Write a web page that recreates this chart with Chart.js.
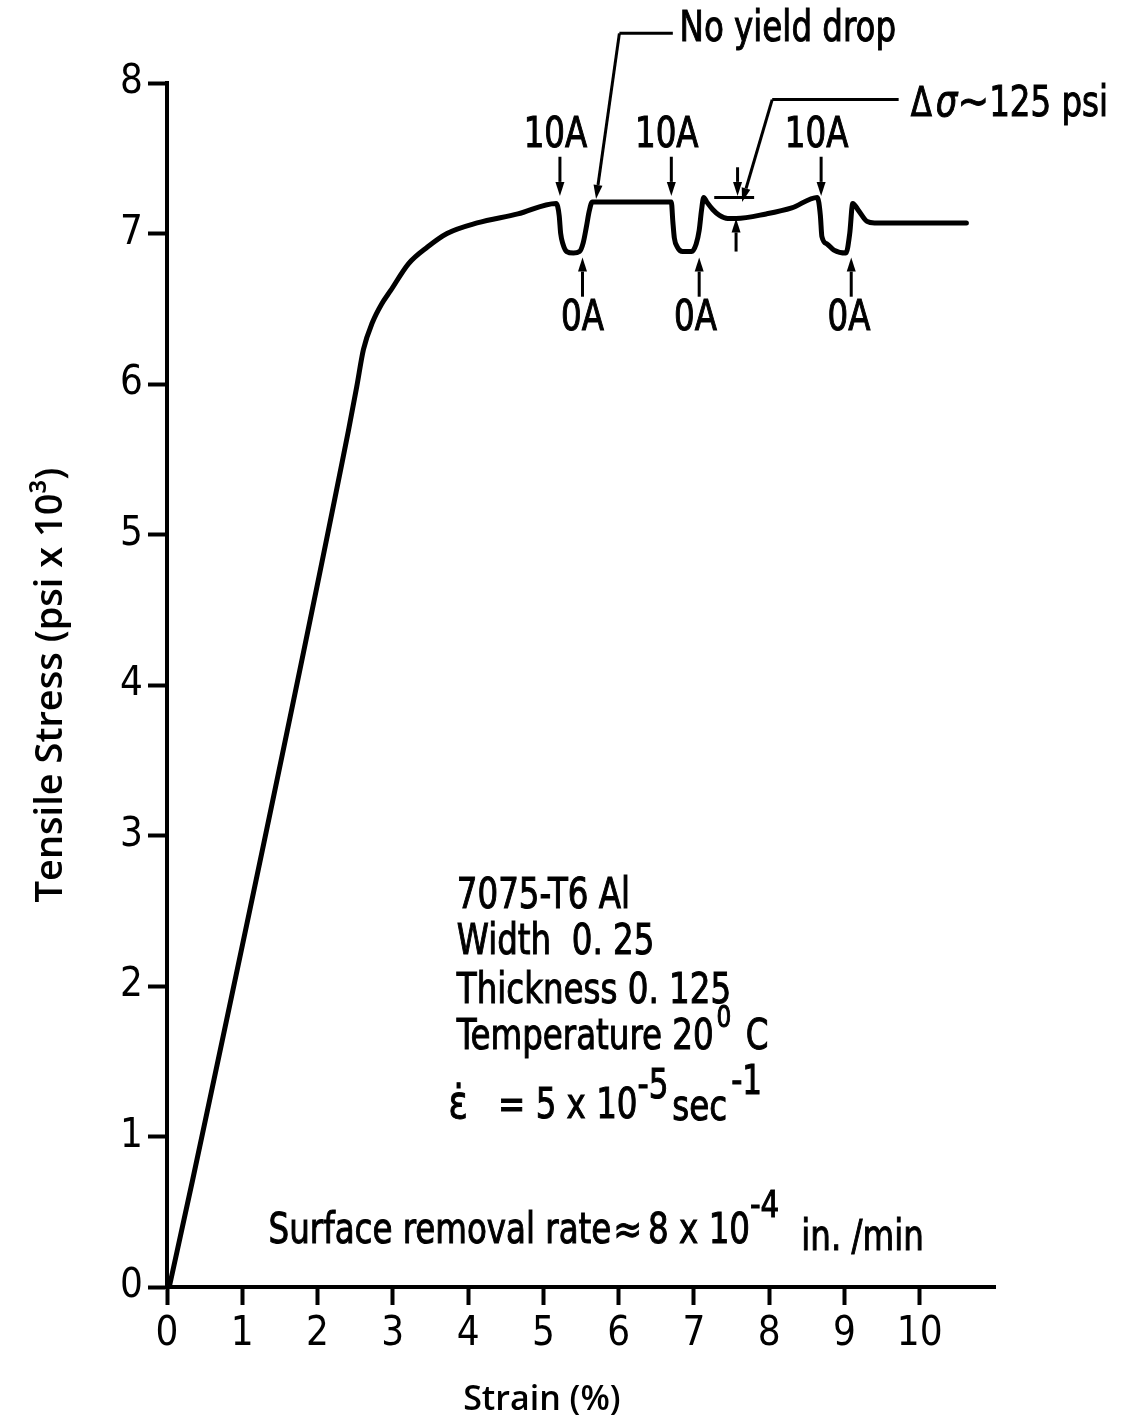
<!DOCTYPE html>
<html>
<head>
<meta charset="utf-8">
<script src="https://cdn.jsdelivr.net/npm/chart.js@4/dist/chart.umd.min.js"></script>
<style>
  html, body { margin: 0; padding: 0; background: #fff; }
  #wrap { width: 1123px; height: 1420px; }
</style>
</head>
<body>
<div id="wrap"><canvas id="stressChart" width="1123" height="1420"></canvas></div>
<script>
// tensile curve, strain in %, stress in psi x 10^3
const strain = [0.03, 0.34, 2.41, 2.52, 2.61, 2.73, 2.85, 2.97, 3.21, 3.46, 3.72, 4.12, 4.66, 5.17,
  5.21, 5.23, 5.26, 5.31, 5.40, 5.48, 5.53, 5.57, 5.61, 5.65,
  6.70, 6.72, 6.74, 6.78, 6.85, 6.97, 7.03, 7.07, 7.10, 7.13, 7.17, 7.25, 7.34, 7.45, 7.56,
  7.96, 8.30, 8.64,
  8.68, 8.70, 8.77, 8.86, 9.02, 9.07, 9.11, 9.19, 9.30, 9.40, 10.62];
const stress = [0, 0.71, 5.69, 5.98, 6.23, 6.41, 6.53, 6.62, 6.80, 6.91, 7.00, 7.07, 7.13, 7.20,
  7.12, 7.00, 6.93, 6.88, 6.87, 6.88, 6.94, 7.04, 7.15, 7.21,
  7.21, 7.08, 6.97, 6.91, 6.88, 6.88, 6.93, 7.02, 7.15, 7.24, 7.21, 7.16, 7.12, 7.10, 7.10,
  7.13, 7.17, 7.24,
  7.12, 6.98, 6.93, 6.89, 6.87, 7.00, 7.20, 7.15, 7.08, 7.07, 7.07];

const xTickValues = [0, 1, 2, 3, 4, 5, 6, 7, 8, 9, 10];
const yTickValues = [0, 1, 2, 3, 4, 5, 6, 7, 8];

// current switching marks (strain where the arrow points)
const on10A = [5.22, 6.70, 8.69];
const off0A = [5.52, 7.07, 9.09];

const NARROW = '"Liberation Sans Narrow", "DejaVu Sans Condensed", sans-serif';
const TITLE = '"Open Sans", "DejaVu Sans", sans-serif';
const SQ = 0.86; // horizontal squeeze for the condensed lettering

function arrow(ctx, x1, y1, x2, y2) {
  const a = Math.atan2(y2 - y1, x2 - x1);
  const len = 14, half = 4.5;
  const bx = x2 - len * Math.cos(a), by = y2 - len * Math.sin(a);
  ctx.beginPath(); ctx.moveTo(x1, y1); ctx.lineTo(bx, by); ctx.stroke();
  ctx.beginPath();
  ctx.moveTo(x2, y2);
  ctx.lineTo(bx + half * Math.sin(a), by - half * Math.cos(a));
  ctx.lineTo(bx - half * Math.sin(a), by + half * Math.cos(a));
  ctx.closePath(); ctx.fill();
}

// condensed, slightly heavier lettering like the original typewriter labels
function squeezed(ctx, text, x, y) {
  ctx.save();
  ctx.translate(x, y);
  ctx.scale(SQ, 1);
  ctx.lineWidth = 1;
  ctx.fillText(text, 0, 0);
  ctx.strokeText(text, 0, 0);
  ctx.restore();
}

function runs(ctx, x, y, parts) {
  parts.forEach(p => {
    ctx.font = p.font || ('42px ' + NARROW);
    x += p.gap || 0;
    squeezed(ctx, p.t, x, y - (p.rise || 0));
    x += ctx.measureText(p.t).width * SQ;
  });
}

const notes = {
  id: 'notes',
  afterDatasetsDraw(chart) {
    const ctx = chart.ctx;
    const X = v => chart.scales.x.getPixelForValue(v);
    const Y = v => chart.scales.y.getPixelForValue(v);
    ctx.save();
    ctx.fillStyle = '#000';
    ctx.strokeStyle = '#000';
    ctx.lineWidth = 3;

    // 10A / 0A arrows and labels
    ctx.font = '42px ' + NARROW;
    ctx.textAlign = 'center';
    ctx.textBaseline = 'middle';
    on10A.forEach(s => {
      arrow(ctx, X(s), Y(7.51), X(s), Y(7.25));
      squeezed(ctx, '10A', X(s - 0.06), Y(7.65));
    });
    off0A.forEach((s, i) => {
      arrow(ctx, X(s), Y(6.58), X(s), Y(6.84));
      squeezed(ctx, '0A', X(s - [0, 0.05, 0.03][i]), Y(6.43));
    });

    // "No yield drop" leader
    ctx.beginPath();
    ctx.moveTo(X(6.72), Y(8.33)); ctx.lineTo(X(6.01), Y(8.33)); ctx.stroke();
    arrow(ctx, X(6.01), Y(8.33), X(5.70), Y(7.23));
    ctx.textAlign = 'left';
    squeezed(ctx, 'No yield drop', X(6.81), Y(8.35));

    // delta sigma leader and markers
    ctx.beginPath();
    ctx.moveTo(X(9.72), Y(7.89)); ctx.lineTo(X(8.04), Y(7.89)); ctx.stroke();
    arrow(ctx, X(8.04), Y(7.89), X(7.64), Y(7.21));
    ctx.beginPath();
    ctx.moveTo(X(7.27), Y(7.24)); ctx.lineTo(X(7.80), Y(7.24)); ctx.stroke();
    arrow(ctx, X(7.58), Y(7.44), X(7.58), Y(7.25));
    arrow(ctx, X(7.56), Y(6.88), X(7.56), Y(7.10));
    ctx.textBaseline = 'alphabetic';
    runs(ctx, X(9.88), Y(7.78), [
      { t: 'Δ', font: '40px ' + NARROW },
      { t: 'σ', font: 'italic 44px ' + NARROW, gap: 4 },
      { t: '∼', font: '44px "DejaVu Sans", sans-serif' },
      { t: '125 psi', font: '42px ' + NARROW }
    ]);

    // specimen block
    const bx = X(3.85);
    runs(ctx, bx, Y(2.52), [{ t: '7075-T6 Al' }]);
    runs(ctx, bx, Y(2.21), [{ t: 'Width  0. 25' }]);
    runs(ctx, bx, Y(1.89), [{ t: 'Thickness 0. 125' }]);
    runs(ctx, bx, Y(1.58), [
      { t: 'Temperature 20' },
      { t: '0', font: '30px ' + NARROW, rise: 22, gap: 3 },
      { t: ' C', gap: 4 }
    ]);
    runs(ctx, X(3.74), Y(1.12), [
      { t: 'ε̇', font: '46px ' + NARROW },
      { t: ' = 5 x 10', gap: 20 },
      { t: '-5', font: '40px ' + NARROW, rise: 20 },
      { t: 'sec', gap: 4, rise: -2 },
      { t: '-1', font: '40px ' + NARROW, rise: 24, gap: 4 }
    ]);
    runs(ctx, X(1.35), Y(0.29), [
      { t: 'Surface removal rate' },
      { t: '≈', font: '40px "DejaVu Sans", sans-serif', gap: 2 },
      { t: '8 x 10', gap: 6 },
      { t: '-4', font: '38px ' + NARROW, rise: 26 },
      { t: 'in. /min', gap: 22, rise: -7 }
    ]);

    // x axis title
    ctx.font = '600 34px ' + TITLE;
    ctx.textAlign = 'center';
    ctx.textBaseline = 'middle';
    ctx.fillText('Strain (%)', X(4.98), Y(-0.75));
    ctx.restore();
  }
};

new Chart(document.getElementById('stressChart'), {
  type: 'scatter',
  data: {
    datasets: [{
      data: strain.map((s, i) => ({ x: s, y: stress[i] })),
      showLine: true,
      borderColor: '#000',
      borderWidth: 5,
      pointRadius: 0,
      cubicInterpolationMode: 'monotone',
      borderJoinStyle: 'round',
      borderCapStyle: 'round'
    }]
  },
  options: {
    responsive: false,
    devicePixelRatio: 1,
    animation: false,
    layout: { padding: { top: 83, right: 128, left: 0, bottom: 0 } },
    plugins: { legend: { display: false }, tooltip: { enabled: false } },
    scales: {
      x: {
        type: 'linear',
        min: 0,
        max: 11,
        afterBuildTicks: scale => { scale.ticks = xTickValues.map(v => ({ value: v })); },
        afterFit: scale => { scale.height = 133; },
        ticks: { color: '#000', padding: 10, font: { family: NARROW, size: 40, lineHeight: 1 } },
        grid: { drawOnChartArea: false, tickLength: 18, tickWidth: 4, tickColor: '#000' },
        border: { display: true, color: '#000', width: 4 }
      },
      y: {
        min: 0,
        max: 8,
        afterBuildTicks: scale => { scale.ticks = yTickValues.map(v => ({ value: v })); },
        afterFit: scale => { scale.width = 167; },
        ticks: { color: '#000', padding: 5, font: { family: NARROW, size: 40, lineHeight: 1 } },
        grid: { drawOnChartArea: false, tickLength: 19, tickWidth: 4, tickColor: '#000' },
        border: { display: true, color: '#000', width: 4 },
        title: {
          display: true,
          text: 'Tensile Stress (psi x 10³)',
          color: '#000',
          padding: { top: 28, bottom: 0 },
          font: { family: TITLE, size: 38, weight: '600', lineHeight: 1.2 }
        }
      }
    }
  },
  plugins: [notes]
});
</script>
</body>
</html>
